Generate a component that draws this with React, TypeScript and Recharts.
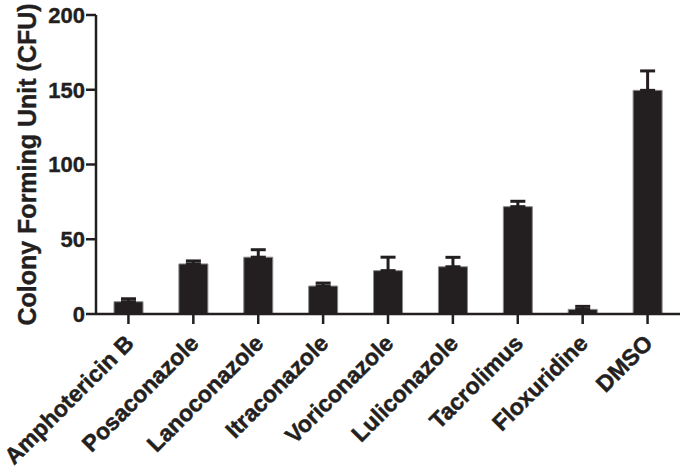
import { BarChart, Bar, XAxis, YAxis, ErrorBar } from "recharts";

const drugs = [
  "Amphotericin B",
  "Posaconazole",
  "Lanoconazole",
  "Itraconazole",
  "Voriconazole",
  "Luliconazole",
  "Tacrolimus",
  "Floxuridine",
  "DMSO",
];
const cfuMeans = [8.2, 33.5, 38, 18.7, 29, 31.6, 71.8, 3.1, 149.6];
const cfuErrors = [2, 2, 5, 2, 9, 6.3, 3.6, 2, 13];
const yTicks = [0, 50, 100, 150, 200];

const data = drugs.map((name, i) => ({
  name,
  cfu: cfuMeans[i],
  err: [0, cfuErrors[i]],
}));

const INK = "#231f20";
const FONT = "'Liberation Sans', Arial, sans-serif";

// rotated category label, right end sitting just under the tick
const DrugTick = (props: any) => {
  const { x, y, payload } = props;
  const px = x + 1;
  const py = y + 15;
  return (
    <text
      x={px}
      y={py}
      dy="0.35em"
      transform={`rotate(-45, ${px}, ${py})`}
      textAnchor="end"
      fill={INK}
      stroke={INK}
      strokeWidth={0.5}
      fontFamily={FONT}
      fontWeight="bold"
      fontSize={23}
    >
      {payload.value}
    </text>
  );
};

export default function App() {
  return (
    <div style={{ position: "absolute", left: 0, top: 0, background: "#fff" }}>
      <BarChart
        width={688}
        height={472}
        data={data}
        margin={{ top: 15, right: 8, bottom: 0, left: 0 }}
        barSize={29}
      >
        <XAxis
          dataKey="name"
          height={158}
          interval={0}
          tickSize={10}
          tickMargin={0}
          stroke={INK}
          strokeWidth={2.5}
          tick={<DrugTick />}
        />
        <YAxis
          width={96}
          domain={[0, 200]}
          ticks={yTicks}
          tickSize={10}
          tickMargin={1}
          stroke={INK}
          strokeWidth={2.5}
          tick={{ fill: INK, stroke: INK, strokeWidth: 0.4, fontSize: 22, fontWeight: "bold", fontFamily: FONT }}
          label={{
            value: "Colony Forming Unit (CFU)",
            angle: -90,
            position: "center",
            dx: -21,
            fill: INK,
            stroke: INK,
            strokeWidth: 0.4,
            fontSize: 25,
            fontWeight: "bold",
            fontFamily: FONT,
          }}
        />
        <Bar dataKey="cfu" fill={INK} stroke="#8a8a8a" strokeWidth={1} isAnimationActive={false}>
          <ErrorBar
            dataKey="err"
            direction="y"
            width={7.5}
            stroke={INK}
            strokeWidth={3}
            isAnimationActive={false}
          />
        </Bar>
      </BarChart>
    </div>
  );
}
